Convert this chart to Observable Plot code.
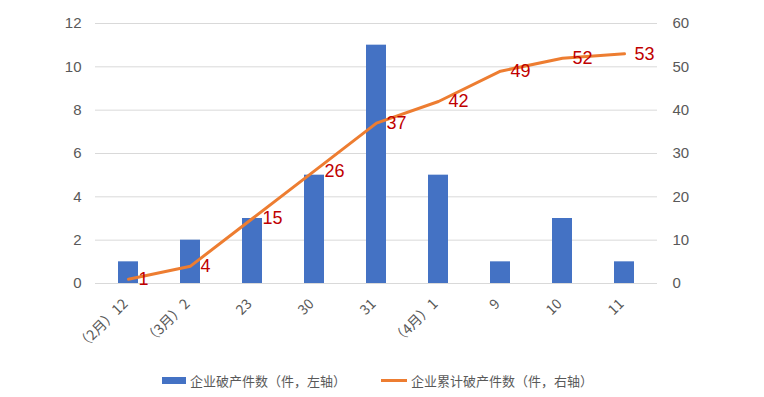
<!DOCTYPE html>
<html><head><meta charset="utf-8">
<script src="https://cdn.jsdelivr.net/npm/d3@7"></script>
<script src="https://cdn.jsdelivr.net/npm/@observablehq/plot@0.6"></script>
<style>
body{margin:0;background:#fff;font-family:"Liberation Sans",Arial,"Noto Sans CJK SC",sans-serif;}
#legend{position:relative;height:35px;width:764px;font-size:13px;color:#595959;font-family:"Noto Sans CJK SC","Liberation Sans",sans-serif;}
.item{position:absolute;top:9px;display:flex;align-items:center;white-space:nowrap;}
.sw{display:inline-block;margin-right:4px;}
</style></head>
<body><div id="chart"></div>
<div id="legend">
 <div class="item" style="left:162px"><span class="sw" style="width:24px;height:7px;background:#4472c4"></span><span id="l1"></span></div>
 <div class="item" style="left:381px"><span class="sw" style="width:26px;height:3px;background:#ed7d31"></span><span id="l2"></span></div>
</div>
<script>
const categories = ["（2月）12","（3月）2","23","30","31","（4月）1","9","10","11"];
const monthly = [1,2,3,5,11,5,1,3,1];
const cumulative = [1,4,15,26,37,42,49,52,53];
const leftTicks = [0,2,4,6,8,10,12];
const rightTicks = [0,10,20,30,40,50,60];
const seriesNames = ["企业破产件数（件，左轴）","企业累计破产件数（件，右轴）"];
const ratio = 60/12;

const bars = categories.map((c,i)=>({c, v: monthly[i]}));
const line = categories.map((c,i)=>({c, v: cumulative[i]}));

const chart = Plot.plot({
  width: 764, height: 362,
  marginTop: 23, marginBottom: 79, marginLeft: 95, marginRight: 107,
  style:{fontFamily:'"Liberation Sans",Arial,"Noto Sans CJK SC",sans-serif', fontSize:"13px", color:"#595959"},
  x:{domain: categories, paddingInner: 0.68, paddingOuter: 0.34, label: null},
  y:{domain:[0,12], label:null},
  marks:[
    Plot.gridY(leftTicks, {stroke:"#d9d9d9", strokeOpacity:1}),
    Plot.axisY(leftTicks, {anchor:"left", tickSize:0, tickPadding:14, label:null, fontSize:15}),
    Plot.axisY(leftTicks, {anchor:"right", tickSize:0, tickPadding:15, label:null, fontSize:15, tickFormat: (d,i) => rightTicks[i]}),
    Plot.axisX({tickSize:0, tickRotate:-45, tickPadding:18, dx:-3, label:null, fontSize:14, fontFamily:'"Noto Sans CJK SC","Liberation Sans",sans-serif'}),
    Plot.barY(bars, {x:"c", y:"v", fill:"#4472c4"}),
    Plot.ruleY([0], {stroke:"#d9d9d9"}),
    Plot.line(line, {x:"c", y: d => d.v/ratio, stroke:"#ed7d31", strokeWidth:3, strokeLinejoin:"round", strokeLinecap:"round"}),
    Plot.text(line, {x:"c", y: d => d.v/ratio, text: d => String(d.v), textAnchor:"start", dx:10, fill:"#c00000", fontSize:18})
  ]
});
document.getElementById("chart").appendChild(chart);
document.getElementById("l1").textContent = seriesNames[0];
document.getElementById("l2").textContent = seriesNames[1];
</script></body></html>
